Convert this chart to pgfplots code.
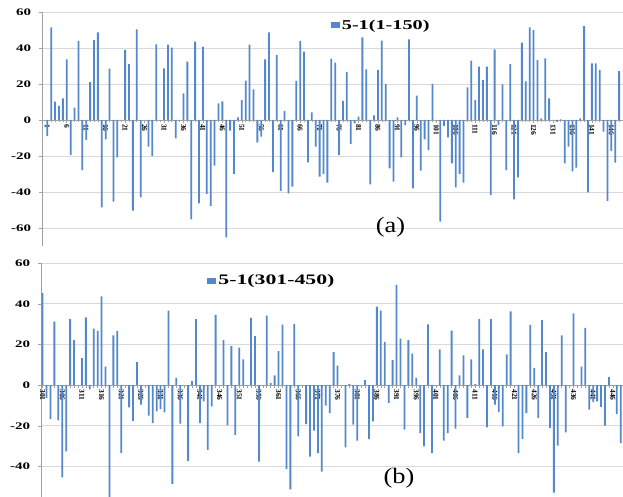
\documentclass[border=0pt]{standalone}
\usepackage{fontspec}
\setmainfont{Liberation Serif}
\newfontfamily\wideserif[FakeStretch=1.5]{Liberation Serif}
\newfontfamily\capserif[FakeStretch=1.2]{Liberation Serif}
\usepackage{pgfplots}
\usepackage{pgfplotstable}
\pgfplotsset{compat=1.18}
\definecolor{barblue}{RGB}{84,136,204}
\definecolor{gridgray}{RGB}{217,217,217}
\definecolor{axgray}{RGB}{160,160,160}

\pgfplotstableread{
x y
1 -9
2 51.5
3 10.2
4 7.8
5 12
6 33.7
7 -19.4
8 6.9
9 43.9
10 -27.8
11 -11
12 21
13 44.4
14 48.7
15 -48.5
16 -10.7
17 28.5
18 -45.4
19 -20.7
20 0
21 38.9
22 31.1
23 -50.4
24 50.4
25 -43
26 0
27 -14.8
28 -20
29 42
30 0
31 28.7
32 41.9
33 40.2
34 -10.2
35 0
36 14.8
37 32.4
38 -55.2
39 43.5
40 -46.3
41 40.7
42 -41.1
43 -47.8
44 -25.4
45 9.3
46 10.4
47 -65.2
48 -5.9
49 -30
50 1.5
51 11.1
52 21.9
53 41.9
54 17
55 -12.4
56 -9.3
57 33.7
58 48.7
59 -29
60 36.1
61 -39.4
62 5
63 -40.7
64 -37
65 21.7
66 44
67 38
68 -23.5
69 4.3
70 -14.8
71 -31.5
72 -30
73 -34.8
74 34.1
75 31.9
76 -19.4
77 10.6
78 26.7
79 -13.3
80 -1.9
81 1.9
82 45.9
83 28.1
84 -35.7
85 2.6
86 27.8
87 44.1
88 20
89 -26.9
90 -34.3
91 1.5
92 -20.7
93 -2.8
94 44.8
95 -38
96 13.5
97 -28.1
98 -10.7
99 -16.7
100 20
101 0
102 -56.5
103 -3.3
104 -9.6
105 -24.1
106 -37.4
107 -30
108 -34.8
109 18.1
110 33
111 11.1
112 29.6
113 22.2
114 29.6
115 -41.7
116 39.3
117 -2.8
118 19.8
119 -27.8
120 31.1
121 -44.1
122 -31.9
123 43
124 21.5
125 51.5
126 50
127 33.3
128 0.9
129 34.3
130 12
131 0
132 -0.9
133 0.4
134 -24.1
135 -14.8
136 -28.5
137 -26.5
138 0.9
139 52.2
140 -40.2
141 31.5
142 31.5
143 27.8
144 -6.5
145 -45
146 -17.2
147 -23.7
148 27.2
}\dataA

\pgfplotstableread{
x y
301 45.3
302 -6.3
303 -16.6
304 31.3
305 -17.3
306 -45.3
307 -32.6
308 32.5
309 22.2
310 0
311 13.3
312 33.4
313 -2.1
314 27.8
315 26.7
316 43.7
317 9.1
318 -56
319 24.5
320 26.7
321 -33.4
322 0
323 -10.9
324 -17.5
325 11.4
326 -9.6
327 0
328 -15
329 -18.6
330 -12.9
331 -11.7
332 -13.3
333 36.7
334 -48.6
335 3.6
336 -18.9
337 0
338 -37.2
339 2
340 32.5
341 -18.6
342 -7.9
343 -31.8
344 -10.4
345 34.6
346 0
347 22.2
348 -19.8
349 19.3
350 -24.4
351 18.5
352 12.7
353 0
354 33.1
355 24.2
356 -37.6
357 0
358 34.3
359 1.2
360 4.8
361 16.8
362 29.8
363 -41.3
364 -51.2
365 30.1
366 -25.2
367 0
368 -19.1
369 -35.1
370 -22.4
371 -33.4
372 -42.5
373 -10
374 -13.7
375 16.3
376 9.7
377 0
378 -30.6
379 0.7
380 -19.4
381 -27.3
382 0
383 2.5
384 -26.5
385 -17.8
386 38.7
387 36.7
388 21.3
389 -8.7
390 12.4
391 49.4
392 22.9
393 -21.9
394 22.2
395 15.5
396 3.6
397 -23.6
398 -30.1
399 30
400 -33.4
401 0
402 17.6
403 -27.2
404 -23.6
405 26.9
406 -21.4
407 4.8
408 14.7
409 -16.1
410 12.7
411 0.5
412 32.5
413 17.6
414 -20.8
415 32.5
416 -9.6
417 -13.2
418 -20.3
419 15.2
420 36.4
421 0
422 -33.4
423 -26.4
424 -13.7
425 29.7
426 8.6
427 -16.1
428 32
429 16.3
430 -21.1
431 -52.9
432 -29.7
433 24.5
434 -23.2
435 0
436 35.3
437 0
438 9.1
439 28.2
440 -12
441 -8.2
442 -8
443 -10.7
444 -19.9
445 4
446 0
447 -14.2
448 -28.5
}\dataB

\pgfplotsset{
  myaxis/.style={
    scale only axis, anchor=south west,
    axis x line=middle, axis y line=left,
    axis line style={-, draw=axgray, line width=0.8pt},
    ymajorgrids, grid style={draw=gridgray, line width=0.9pt},
    ybar, bar width=1.8pt, bar shift=0pt,
    tick style={draw=axgray, line width=0.6pt},
    tick align=outside,
    major tick length=3pt, minor tick length=2.5pt,
    /pgf/number format/assume math mode=true,
    yticklabel style={font=\wideserif\bfseries\fontsize{10}{10}\selectfont, inner sep=0pt, anchor=east, xshift=-8pt},
    xticklabel style={font=\bfseries\fontsize{7.5}{8}\selectfont, rotate=-90, anchor=west, inner sep=1pt},
    legend style={draw=none, fill=none, anchor=west, inner sep=0pt},
    legend image code/.code={\fill[barblue] (0pt,-3pt) rectangle (9pt,3pt);},
    clip=true,
  }
}

\begin{document}
\begin{tikzpicture}
\useasboundingbox (0pt,0pt) rectangle (623pt,497pt);
\begin{axis}[myaxis,
  at={(42.3pt,251pt)}, width=580.7pt, height=234pt,
  xmin=-0.29, xmax=149, ymin=-70, ymax=60,
  ytick={-60,-40,...,60},
  xtick={1,6,...,146}, minor xtick={1,...,149},
  legend style={at={(rel axis cs:0.4966,0.943)}, font=\wideserif\bfseries\fontsize{13.5}{14}\selectfont},
]
\addplot[fill=barblue, draw=none] table[x=x,y=y]{\dataA};
\addlegendentry{5-1(1-150)}
\end{axis}
\begin{axis}[myaxis,
  at={(41.3pt,0pt)}, width=581.4pt, height=233.7pt,
  xmin=300.67, xmax=448.5, ymin=-55, ymax=60,
  ytick={-40,-20,...,60},
  xtick={301,306,...,446}, minor xtick={301,...,448},
  legend style={at={(rel axis cs:0.2855,0.9255)}, font=\wideserif\bfseries\fontsize{14.5}{15}\selectfont},
]
\addplot[fill=barblue, draw=none] table[x=x,y=y]{\dataB};
\addlegendentry{5-1(301-450)}
\end{axis}
\node[font=\capserif\fontsize{22}{24}\selectfont] at (390.5pt,269.5pt) {(a)};
\node[font=\capserif\fontsize{22}{24}\selectfont] at (399pt,19pt) {(b)};
\end{tikzpicture}
\end{document}
